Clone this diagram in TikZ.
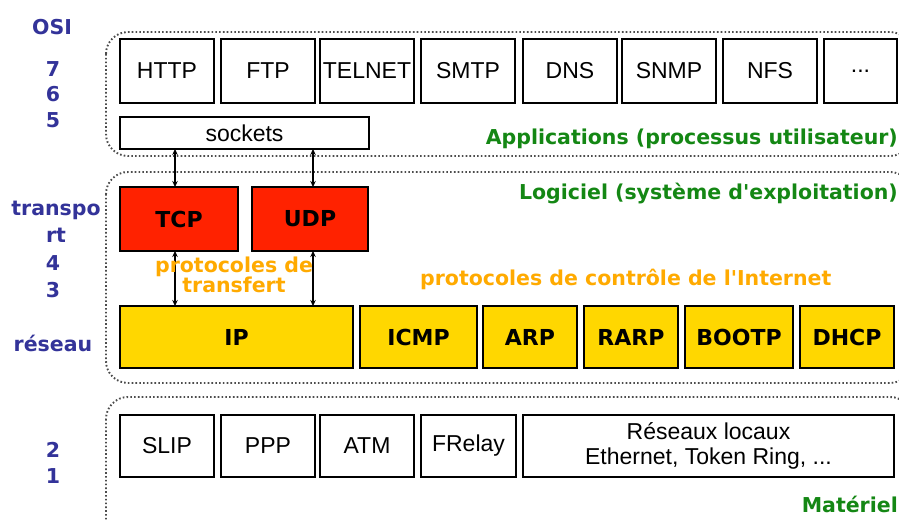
\documentclass[tikz,border=0pt]{standalone}
\usepackage{fontspec}
\setmainfont{Liberation Sans}
\newfontfamily\headfont{DejaVu Sans}
\usetikzlibrary{arrows.meta}
\definecolor{osiblue}{RGB}{51,51,153}
\definecolor{zonegreen}{RGB}{20,135,20}
\definecolor{protoorange}{RGB}{255,170,0}
\definecolor{tcpred}{RGB}{255,34,0}
\definecolor{ipyellow}{RGB}{255,215,0}
\begin{document}
\begin{tikzpicture}[x=1pt, y=-1pt,
  zone/.style={draw=black!70, line width=1.9pt, dash pattern=on 1.6pt off 2.2pt, rounded corners=22pt},
  proto/.style={draw, line width=1.4pt, fill=white, inner sep=0pt, outer sep=0pt, anchor=north west,
    minimum width=94pt, minimum height=64pt, font=\fontsize{23}{25}\selectfont},
  hard/.style={proto, minimum height=62pt},
  transp/.style={proto, fill=tcpred, font=\headfont\bfseries\fontsize{22}{24}\selectfont},
  net/.style={proto, minimum height=62pt, fill=ipyellow, font=\headfont\bfseries\fontsize{22}{24}\selectfont},
  osi/.style={anchor=base, text=osiblue, inner sep=0pt, font=\headfont\bfseries\fontsize{20.5}{22}\selectfont},
  zonelabel/.style={anchor=base east, text=zonegreen, inner sep=0pt, font=\headfont\bfseries\fontsize{20.5}{22}\selectfont},
  ctrl/.style={text=protoorange, inner sep=0pt, font=\headfont\bfseries\fontsize{20.5}{20}\selectfont},
  link/.style={line width=1.3pt, {Stealth[length=6pt,width=5.5pt]}-{Stealth[length=6pt,width=5.5pt]}}]
\useasboundingbox (0,0) rectangle (899,521);
\clip (0,0) rectangle (899,521);
\draw[zone] (106,32) rectangle (912,156);
\draw[zone] (106,172) rectangle (912,383);
\draw[zone] (106,397) rectangle (912,545);
\node[osi] (osi) at (52,35) {OSI};
\node[osi] (l7) at (53,77) {7};
\node[osi] (l6) at (53,102) {6};
\node[osi] (l5) at (53,128) {5};
\node[osi] (ltr) at (56,216) {transpo};
\node[osi] (lrt) at (56,243) {rt};
\node[osi] (l4) at (53,270) {4};
\node[osi] (l3) at (53,298) {3};
\node[osi] (lnet) at (53,351) {réseau};
\node[osi] (l2) at (53,457) {2};
\node[osi] (l1) at (53,483) {1};
\node[proto] (http) at (120,39) {HTTP};
\node[proto] (ftp) at (221,39) {FTP};
\node[proto] (telnet) at (320,39) {TELNET};
\node[proto] (smtp) at (421,39) {SMTP};
\node[proto] (dns) at (523,39) {DNS};
\node[proto] (snmp) at (622,39) {SNMP};
\node[proto] (nfs) at (723,39) {NFS};
\node[proto, minimum width=73pt] (more) at (824,39) {...};
\node[proto, minimum width=249pt, minimum height=32pt] (sockets) at (120,117) {sockets};
\node[zonelabel] (apps) at (898,145) {Applications (processus utilisateur)};
\node[zonelabel] (soft) at (898,200) {Logiciel (système d'exploitation)};
\node[transp, minimum width=118pt] (tcp) at (120,187) {TCP};
\node[transp, minimum width=116pt] (udp) at (252,187) {UDP};
\node[net, minimum width=233pt] (ip) at (120,306) {IP};
\node[net, minimum width=117pt] (icmp) at (360,306) {ICMP};
\node[net] (arp) at (483,306) {ARP};
\node[net] (rarp) at (584,306) {RARP};
\node[net, minimum width=108pt] (bootp) at (685,306) {BOOTP};
\node[net] (dhcp) at (800,306) {DHCP};
\draw[link] (sockets.south -| tcp.north) ++(-4,0) coordinate (s1) -- (s1 |- tcp.north);
\draw[link] (sockets.south -| udp.north) ++(3,0) coordinate (s2) -- (s2 |- udp.north);
\draw[link] (s1 |- tcp.south) -- (s1 |- ip.north);
\draw[link] (s2 |- udp.south) -- (s2 |- ip.north);
\node[ctrl, align=center, anchor=base] (transfer) at (234,292) {protocoles de\\transfert};
\node[ctrl, anchor=base west] (control) at (420,285) {protocoles de contrôle de l'Internet};
\node[hard] (slip) at (120,415) {SLIP};
\node[hard] (ppp) at (221,415) {PPP};
\node[hard] (atm) at (320,415) {ATM};
\node[hard, minimum width=95pt] (frelay) at (421,415) {FRelay};
\node[hard, minimum width=371pt, align=center] (lan) at (523,415) {Réseaux locaux\\Ethernet, Token Ring, ...};
\node[zonelabel] (hw) at (898,512) {Matériel};
\end{tikzpicture}
\end{document}
